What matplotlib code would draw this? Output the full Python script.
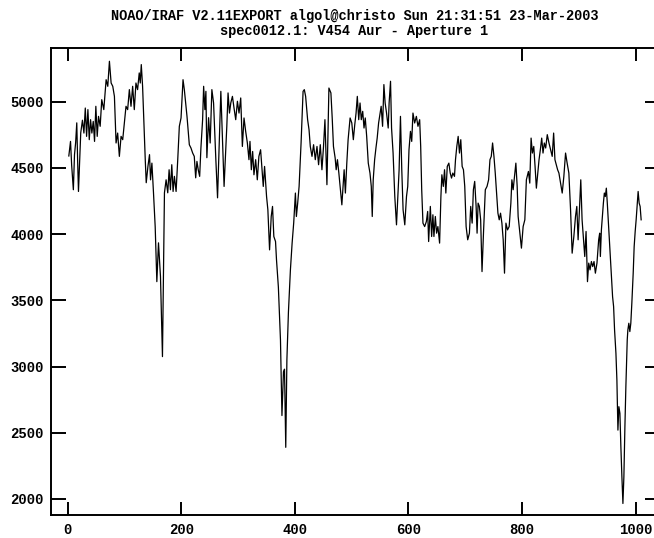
import matplotlib
matplotlib.use('Agg')
import matplotlib.pyplot as plt

title1 = 'NOAO/IRAF V2.11EXPORT algol@christo Sun 21:31:51 23-Mar-2003'
title2 = 'spec0012.1: V454 Aur - Aperture 1'

xticks = [0, 200, 400, 600, 800, 1000]
yticks = [2000, 2500, 3000, 3500, 4000, 4500, 5000]

# pixel / counts along the aperture
pix_a = [2, 5, 7, 10, 12, 14, 16, 17.5, 19, 23, 26, 28.6, 31, 33.3, 35.6, 38,
         40.3, 42.6, 45, 47.3, 49.6, 52, 54.3, 57.2, 60, 63.6, 67.7, 70.6,
         73.5, 76.5, 79.4, 82.3, 85.2, 88, 91, 94, 96.9, 99.8, 102.7, 105.6,
         108.6, 111.5, 114.4, 117.3, 120.2, 123.1, 126, 127.8, 129.6, 131.9]
cts_a = [4590, 4700, 4520, 4335, 4600, 4690, 4840, 4560, 4322, 4765, 4860,
         4763, 4952, 4738, 4940, 4713, 4864, 4763, 4851, 4700, 4965, 4738,
         4889, 4814, 5015, 4940, 5166, 5116, 5305, 5141, 5116, 5040, 4688,
         4763, 4587, 4738, 4713, 4839, 4965, 4940, 5091, 4965, 5116, 4940,
         5141, 5091, 5217, 5141, 5280, 5116]

pix_b = [136.6, 138.3, 141.3, 144.1, 145.9, 148.3, 151.1, 154.1, 157, 159.9,
         163.4, 166.9, 170.4, 173.3, 176.2, 178.6, 180.9, 183.3, 185.6, 187.9,
         190.9, 193.8, 196.6, 199.6, 203.1, 205.4, 207.8, 210.1, 214.2, 217.1,
         220.1, 222.9, 225.4, 227.6, 229.9, 232.4, 234.6, 237.6, 239.4, 241.6,
         243.4, 245.1, 248.1, 250.9, 253.9, 256.9, 260.9, 263.9, 269.7, 275.4,
         280.2, 282.4, 284.9, 287.2, 290.1, 292.9, 295.9, 298.9, 301.7, 304.7]
cts_b = [4562, 4388, 4511, 4600, 4410, 4536, 4312, 4055, 3641, 3934, 3679,
         3075, 4312, 4410, 4312, 4486, 4335, 4524, 4322, 4436, 4322, 4562,
         4814, 4877, 5166, 5091, 4990, 4889, 4675, 4650, 4612, 4587, 4425,
         4549, 4486, 4436, 4650, 4864, 5116, 4940, 5078, 4577, 4879, 4688,
         5091, 4990, 4562, 4274, 5078, 4360, 4814, 5066, 4914, 4990, 5040,
         4952, 4864, 5003, 4914, 5028]

pix_c = [307.6, 310.5, 313.4, 316.4, 319.2, 321, 323.4, 325.7, 328, 331,
         333.9, 336.7, 339.7, 342.7, 344.4, 346.7, 350.2, 352.5, 355.5, 358.4,
         360.7, 363, 366, 367.7, 371, 374.7, 377.3, 380, 381.8, 384, 386,
         388.7, 392.2, 395.2, 398, 401, 402.7, 405, 407.5, 411, 414.5, 416.7,
         419, 422.5, 425, 427.2, 430.2, 433, 436, 439, 441.8, 444.8, 447.7]
cts_c = [4662, 4877, 4776, 4688, 4562, 4700, 4486, 4624, 4448, 4562, 4410,
         4587, 4637, 4461, 4360, 4511, 4284, 4184, 3881, 4133, 4209, 3982,
         3944, 3806, 3600, 3200, 2630, 2960, 2980, 2390, 3050, 3410, 3730,
         3932, 4085, 4310, 4133, 4234, 4360, 4690, 5078, 5091, 5040, 4864,
         4788, 4662, 4587, 4675, 4562, 4662, 4524, 4675, 4486]

pix_d = [450.5, 453, 456.5, 460, 463.5, 465.8, 468, 471, 472.8, 475, 477.5,
         479.8, 482.8, 484.5, 486.8, 489, 491.5, 493.8, 497.3, 500.3, 503,
         505.5, 507.8, 510, 512.5, 514.8, 517, 519.5, 521.8, 524, 526.5, 529.3,
         532.3, 534.6, 536.3, 538, 540.5, 542.8, 545, 547.5, 549.8, 552, 554.5,
         556.8, 559, 561.5, 564.4, 566, 568.5, 570.3, 573, 576, 579, 581.3,
         583.6, 586, 588.3, 590.6, 593.6, 596.6, 598.8, 601, 603.6, 605.8, 608,
         611, 614, 616.8, 619.8]
cts_d = [4662, 4864, 4373, 5103, 5066, 4877, 4662, 4574, 4486, 4562, 4461,
         4360, 4221, 4335, 4486, 4310, 4536, 4713, 4877, 4839, 4713, 4826,
         4914, 5040, 4864, 4990, 4864, 4927, 4801, 4877, 4738, 4536, 4461,
         4360, 4133, 4410, 4562, 4650, 4725, 4839, 4902, 4965, 4814, 5129,
         4990, 4914, 4801, 4990, 5154, 4801, 4612, 4284, 4070, 4284, 4486,
         4889, 4486, 4184, 4070, 4284, 4360, 4637, 4776, 4700, 4914, 4839,
         4889, 4814, 4864]

pix_e = [621.6, 623.4, 625.6, 628.6, 631.6, 633.9, 635.6, 638.6, 640.9, 643.1,
         644.9, 647.4, 649.6, 651.9, 654.9, 657.2, 658.9, 661.4, 663.6, 665.9,
         668.4, 671.2, 673.6, 675.9, 678.2, 681.1, 682.9, 685.2, 687.6, 689.9,
         692.2, 694.6, 696.9, 699.2, 701.6, 704.4, 707.4, 709.7, 712.2, 714.4,
         716.7, 719.2, 720.9, 722.7, 724.9, 727.2, 729.6, 732.4, 735.4, 738.4,
         741.2, 743.6, 745.9, 748.2, 750.6, 752.9, 755.2, 757.6, 759.9, 762.2,
         764.6, 766.9, 769.2, 771.7, 774.5, 777.4]
cts_e = [4662, 4335, 4083, 4057, 4095, 4171, 3944, 4209, 3982, 4146, 3982,
         4133, 4007, 4057, 3932, 4284, 4448, 4360, 4486, 4310, 4511, 4536,
         4461, 4423, 4461, 4436, 4562, 4662, 4738, 4612, 4713, 4511, 4486,
         4360, 4057, 3957, 4007, 4209, 4083, 4335, 4398, 4209, 4007, 4234,
         4209, 4108, 3717, 4032, 4335, 4360, 4410, 4562, 4587, 4688, 4587,
         4461, 4310, 4158, 4108, 4158, 4083, 3957, 3705, 4083, 4032, 4057]

pix_f = [780.4, 782.2, 784.4, 786.2, 789.2, 791.5, 793.2, 796.2, 799, 802,
         805, 807.7, 811.3, 813.7, 816, 818.3, 820.7, 823, 825.3, 827.7, 830,
         832.3, 834.7, 837, 839.3, 841.7, 844.5, 847.5, 850.4, 853.2, 855.7,
         858, 860.3, 862.7, 865, 868, 870.8, 873.7, 876.7, 879.5, 882.5, 885.5,
         888.3, 891.3, 894.2, 896.5, 898.8, 901.2, 903.5, 905.8, 908.3, 910.5,
         912.8, 915.3, 917.5, 919.8, 922.2, 924.5, 926.8, 929.2, 932, 935]
cts_f = [4234, 4410, 4335, 4410, 4536, 4360, 4133, 4007, 3894, 4057, 4108,
         4410, 4473, 4385, 4725, 4612, 4662, 4511, 4347, 4461, 4562, 4637,
         4725, 4612, 4688, 4650, 4751, 4688, 4637, 4587, 4763, 4562, 4524,
         4486, 4461, 4385, 4310, 4436, 4612, 4536, 4461, 4184, 3856, 3982,
         4133, 4209, 3957, 4184, 4410, 4108, 3957, 3831, 4020, 3641, 3781,
         3730, 3793, 3755, 3793, 3705, 3781, 3957]

pix_g = [936.8, 938, 939.8, 941.5, 943.3, 945, 946.7, 948.5, 950.2, 952.5,
         955.5, 957.2, 959.5, 961.3, 963, 965.4, 967.1, 968.9, 970.6, 972.4,
         974.1, 975.9, 977.7, 979.4, 981.2, 982.9, 985.3, 986.4, 988.1, 989.9,
         991.6, 993.4, 995.8, 997.5, 999.3, 1001, 1002.8, 1004.5, 1006.3,
         1008, 1009.8]
cts_g = [4007, 3831, 4032, 4133, 4234, 4310, 4284, 4347, 4234, 4057, 3831,
         3692, 3528, 3453, 3276, 3100, 2898, 2520, 2697, 2647, 2395, 2168,
         1966, 2168, 2545, 2848, 3201, 3276, 3327, 3264, 3327, 3478, 3705,
         3906, 4020, 4108, 4221, 4322, 4234, 4209, 4108]

pixel = pix_a + pix_b + pix_c + pix_d + pix_e + pix_f + pix_g
counts = cts_a + cts_b + cts_c + cts_d + cts_e + cts_f + cts_g

plt.rcParams['font.family'] = ['Liberation Mono', 'DejaVu Sans Mono']
plt.rcParams['font.weight'] = 'bold'

W, H = 654, 538
fig = plt.figure(figsize=(W / 100, H / 100), dpi=100)
# frame edges in pixels: left 50.7, top 48.3, bottom 515, right runs off the page
left, top, bottom, right = 50.7, 48.3, 515, 660
ax = fig.add_axes([left / W, (H - bottom) / H, (right - left) / W,
                   (bottom - top) / H])

ax.plot(pixel, counts, color='black', lw=0.9)

ax.set_xlim(-29.9, 1043)
ax.set_ylim(1879, 5403)
ax.set_xticks(xticks)
ax.set_yticks(yticks)
ax.tick_params(direction='in', width=1.4, top=True, right=True,
               labelsize=10, color='black')
ax.tick_params(axis='x', length=9.4, pad=6)
ax.tick_params(axis='y', length=10.8, pad=4.8)
for s in ax.spines.values():
    s.set_linewidth(1.4)

fig.text(354.5 / W, 1 - 16 / H, title1, ha='center', va='center', fontsize=9.8)
fig.text(354.5 / W, 1 - 31 / H, title2, ha='center', va='center', fontsize=9.8)

fig.savefig('out.png', dpi=100)
